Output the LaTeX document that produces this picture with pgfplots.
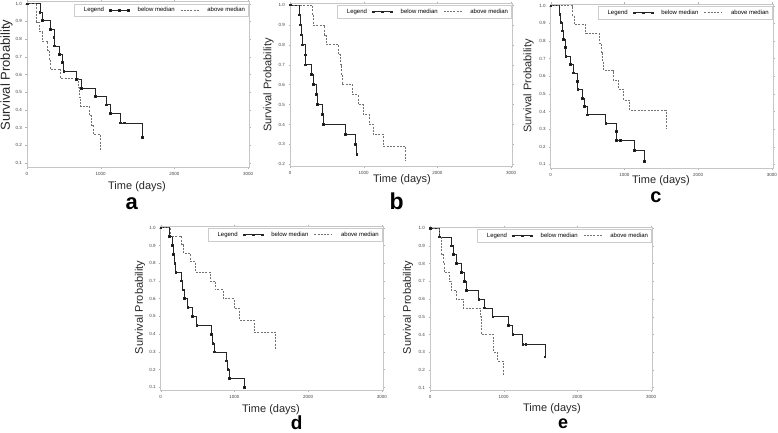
\documentclass[border=0pt]{standalone}
\usepackage{fontspec}
\setmainfont{Liberation Sans}
\usepackage{pgfplots}
\pgfplotsset{compat=1.18}
\pgfplotsset{
  km/.style={
    scale only axis, width=222.6pt, xmin=0, xmax=3020,
    axis line style={gray!45, line width=0.5pt},
    xtick={0,1000,2000,3000},
    tick style={gray!60, line width=0.4pt}, major tick length=1.5pt, tick align=outside,
    /pgf/number format/assume math mode=true,
    scaled ticks=false,
    x tick label style={font=\fontsize{4.5}{5}\selectfont, text=black!75, /pgf/number format/set thousands separator={}},
    y tick label style={font=\fontsize{4.5}{5}\selectfont, text=black!75, /pgf/number format/fixed, /pgf/number format/precision=1, /pgf/number format/fixed zerofill},
    legend style={at={(rel axis cs:0.995,0.985)}, anchor=north east, draw=gray!40, line width=0.4pt,
      font=\fontsize{6}{7}\selectfont, legend columns=-1, inner sep=1.2pt, row sep=0pt,
      /tikz/every even column/.append style={column sep=3.5pt},
      /tikz/every odd column/.append style={column sep=6.5pt}},
  },
  below/.style={const plot, color=black!85, line width=0.7pt, mark=square*, mark size=0.85pt, mark options={solid, fill=black},
    legend image code/.code={\draw[##1, mark repeat=1] plot coordinates {(0pt,0pt) (9pt,0pt) (18pt,0pt)};}},
  above/.style={const plot, color=black!55, line width=0.7pt, dash pattern=on 2pt off 1.3pt,
    legend image code/.code={\draw[##1] (0pt,0pt) -- (18pt,0pt);}},
}
\begin{document}
\begin{tikzpicture}
\useasboundingbox (0pt,0pt) rectangle (778pt,432pt);
% ---------- a ----------
\begin{axis}[km, at={(27pt,265pt)}, anchor=south west, height=165.4pt, ymin=0.078, ymax=1.012,
  ytick={0.1,0.2,0.3,0.4,0.5,0.6,0.7,0.8,0.9,1.0}]
\addlegendimage{empty legend}\addlegendentry{Legend}
\addplot[below] coordinates {(0,1.0) (176,0.952) (208,0.905) (321,0.857) (366,0.810) (372,0.762) (439,0.714) (480,0.667) (498,0.619) (674,0.571) (738,0.524) (928,0.476) (1072,0.429) (1127,0.381) (1262,0.327) (1317,0.327) (1566,0.245)};
\addlegendentry{below median}
\addplot[above] coordinates {(0,1.0) (131,0.895) (162,0.842) (203,0.789) (281,0.737) (300,0.684) (312,0.632) (455,0.579) (697,0.526) (710,0.474) (725,0.421) (845,0.368) (869,0.316) (900,0.263) (995,0.175)};
\addlegendentry{above median}
\end{axis}
% ---------- b ----------
\begin{axis}[km, at={(290pt,265.3pt)}, anchor=south west, height=163.7pt, ymin=0.188, ymax=1.01,
  ytick={0.2,0.3,0.4,0.5,0.6,0.7,0.8,0.9,1.0}]
\addlegendimage{empty legend}\addlegendentry{Legend}
\addplot[below] coordinates {(0,1.0) (131,0.95) (140,0.90) (158,0.85) (172,0.80) (204,0.75) (208,0.70) (285,0.65) (317,0.60) (362,0.55) (371,0.50) (439,0.45) (457,0.40) (751,0.35) (882,0.30) (905,0.25)};
\addlegendentry{below median}
\addplot[above] coordinates {(0,1.0) (299,0.95) (312,0.90) (471,0.85) (493,0.80) (660,0.75) (680,0.70) (692,0.65) (705,0.60) (850,0.55) (923,0.50) (991,0.45) (1072,0.40) (1127,0.35) (1262,0.292) (1565,0.219)};
\addlegendentry{above median}
\end{axis}
% ---------- c ----------
\begin{axis}[km, at={(550.7pt,263.6pt)}, anchor=south west, height=164.4pt, ymin=0.077, ymax=1.01,
  ytick={0.1,0.2,0.3,0.4,0.5,0.6,0.7,0.8,0.9,1.0}]
\addlegendimage{empty legend}\addlegendentry{Legend}
\addplot[below] coordinates {(0,1.0) (122,0.952) (136,0.905) (158,0.857) (172,0.810) (195,0.762) (204,0.714) (271,0.667) (308,0.619) (357,0.571) (367,0.524) (430,0.476) (457,0.429) (493,0.381) (747,0.333) (887,0.286) (895,0.238) (945,0.238) (1136,0.179) (1271,0.119)};
\addlegendentry{below median}
\addplot[above] coordinates {(0,1.0) (294,0.947) (315,0.895) (475,0.842) (665,0.789) (690,0.737) (705,0.684) (720,0.632) (846,0.579) (920,0.526) (990,0.465) (1072,0.407) (1564,0.305)};
\addlegendentry{above median}
\end{axis}
% ---------- d ----------
\begin{axis}[km, at={(160.7pt,42pt)}, anchor=south west, height=164pt, ymin=0.085, ymax=1.01,
  ytick={0.1,0.2,0.3,0.4,0.5,0.6,0.7,0.8,0.9,1.0}]
\addlegendimage{empty legend}\addlegendentry{Legend}
\addplot[below] coordinates {(0,1.0) (122,0.95) (158,0.90) (167,0.85) (190,0.80) (204,0.75) (281,0.70) (299,0.65) (317,0.60) (367,0.55) (434,0.50) (489,0.45) (683,0.40) (706,0.35) (724,0.30) (887,0.25) (910,0.20) (928,0.15) (1136,0.10)};
\addlegendentry{below median}
\addplot[above] coordinates {(0,1.0) (127,0.952) (285,0.905) (310,0.857) (400,0.81) (466,0.75) (669,0.70) (740,0.65) (845,0.60) (995,0.545) (1070,0.48) (1266,0.41) (1561,0.31)};
\addlegendentry{above median}
\end{axis}
% ---------- e ----------
\begin{axis}[km, at={(430pt,42pt)}, anchor=south west, height=163pt, ymin=0.087, ymax=1.006,
  ytick={0.1,0.2,0.3,0.4,0.5,0.6,0.7,0.8,0.9,1.0}]
\addlegendimage{empty legend}\addlegendentry{Legend}
\addplot[below] coordinates {(0,1.0) (122,0.95) (294,0.90) (312,0.85) (362,0.80) (421,0.75) (466,0.70) (493,0.65) (661,0.60) (738,0.55) (851,0.50) (1063,0.45) (1122,0.40) (1258,0.343) (1299,0.343) (1560,0.274)};
\addlegendentry{below median}
\addplot[above] coordinates {(0,1.0) (122,0.95) (150,0.90) (158,0.85) (185,0.80) (192,0.75) (262,0.70) (290,0.65) (355,0.60) (448,0.55) (680,0.50) (692,0.45) (700,0.40) (855,0.35) (866,0.30) (920,0.25) (990,0.167)};
\addlegendentry{above median}
\end{axis}
% ---------- labels ----------
\node[rotate=90, font=\fontsize{13}{15}\selectfont, text=black!85] at (6.5pt,357pt) {Survival Probability};
\node[rotate=90, font=\fontsize{11}{13}\selectfont, text=black!85] at (268.5pt,347pt) {Survival Probability};
\node[rotate=90, font=\fontsize{11}{13}\selectfont, text=black!85] at (528.5pt,346pt) {Survival Probability};
\node[rotate=90, font=\fontsize{11}{13}\selectfont, text=black!85] at (140pt,124.5pt) {Survival Probability};
\node[rotate=90, font=\fontsize{11}{13}\selectfont, text=black!85] at (408pt,124.5pt) {Survival Probability};
\node[inner sep=0pt, font=\fontsize{11}{13}\selectfont, text=black!85] at (137pt,245pt) {Time (days)};
\node[inner sep=0pt, font=\fontsize{11}{13}\selectfont, text=black!85] at (402pt,252pt) {Time (days)};
\node[inner sep=0pt, font=\fontsize{11}{13}\selectfont, text=black!85] at (661pt,251pt) {Time (days)};
\node[inner sep=0pt, font=\fontsize{11}{13}\selectfont, text=black!85] at (271pt,22.5pt) {Time (days)};
\node[inner sep=0pt, font=\fontsize{11}{13}\selectfont, text=black!85] at (552pt,23.5pt) {Time (days)};
\node[inner sep=0pt, font=\fontsize{22}{24}\selectfont\bfseries] at (131.7pt,228.5pt) {a};
\node[inner sep=0pt, font=\fontsize{23}{25}\selectfont\bfseries] at (396.7pt,231pt) {b};
\node[inner sep=0pt, font=\fontsize{20}{22}\selectfont\bfseries] at (656pt,235pt) {c};
\node[inner sep=0pt, font=\fontsize{19}{21}\selectfont\bfseries] at (296.7pt,9.5pt) {d};
\node[inner sep=0pt, font=\fontsize{18}{20}\selectfont\bfseries] at (563pt,8.5pt) {e};
\end{tikzpicture}
\end{document}
